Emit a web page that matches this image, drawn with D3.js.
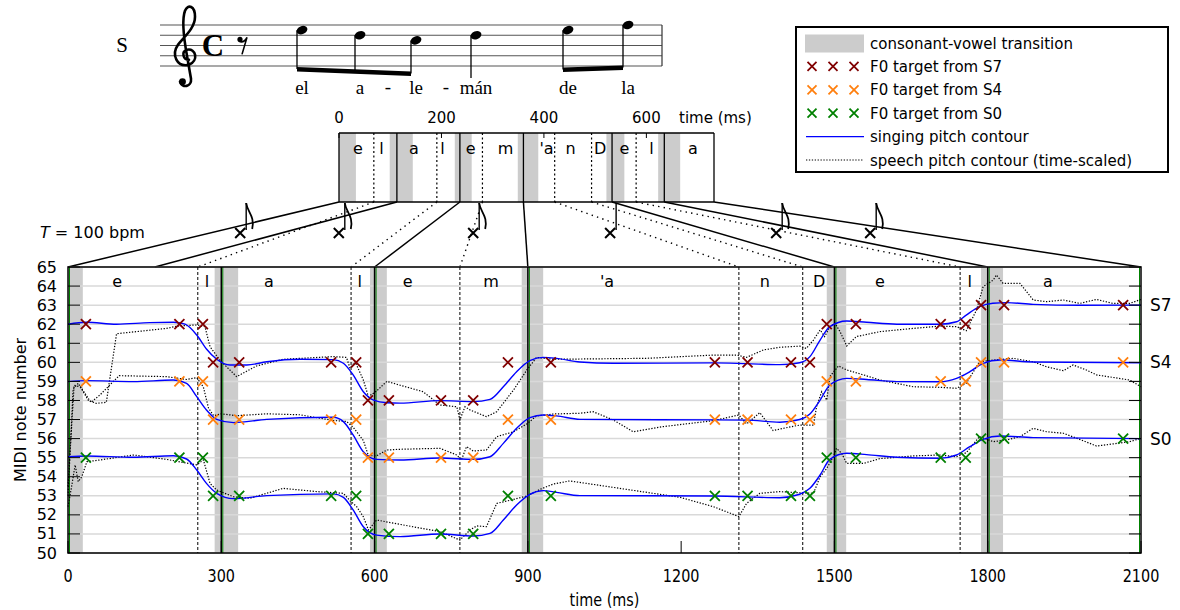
<!DOCTYPE html>
<html><head><meta charset="utf-8">
<script src="https://cdn.jsdelivr.net/npm/d3@7"></script>
<style>
body{margin:0;background:#fff}
text{font-family:"DejaVu Sans",sans-serif;fill:#000}
</style>
</head><body><div id="chart"></div>
<script>
// ---- data ----
var noteBounds = [0, 300, 600, 900, 1500, 1800, 2100];
var phonBounds = [254, 554, 767, 1313, 1438, 1746];
var cvRegions = [[0, 29], [287, 333], [591, 624], [888, 930], [1485, 1523], [1787, 1830]];
var phonemes = ["e", "l", "a", "l", "e", "m", "'a", "n", "D", "e", "l", "a"];
var phonTimes = [96, 272, 393, 571, 665, 828, 1055, 1364, 1470, 1589, 1765, 1918];

var speechBounds = [0, 113, 236, 360, 533, 635, 732];
var speechPhonBounds = [68, 191, 280, 421, 493, 580];
var speechCv = [[0, 33], [99, 144], [226, 259], [349, 389], [522, 557], [623, 666]];
var speechPhonTimes = [37, 83, 146, 202, 257, 325, 405, 452, 510, 557, 610, 691];
var speechTicks = [0, 200, 400, 600];

var solidLinks = [[0, 0], [113, 170], [236, 600], [360, 900], [533, 1500], [635, 1800], [732, 2100]];
var dottedLinks = [[68, 254], [191, 554], [280, 767], [421, 1313], [493, 1438], [580, 1746]];
var noteMarks = [337, 530, 793, 1061, 1386, 1570];
var noteFlag = [true, true, true, false, true, true];

var targetTimes = [35, 218, 264, 284, 335, 515, 564, 587, 628, 730, 793, 861, 945, 1266, 1330, 1415, 1452, 1485, 1542, 1708, 1757, 1787, 1832, 2065];
var targetS7 = [62, 62, 62, 60, 60, 60, 60, 58, 58, 58, 58, 60, 60, 60, 60, 60, 60, 62, 62, 62, 62, 63, 63, 63];
var targetS4 = [59, 59, 59, 57, 57, 57, 57, 55, 55, 55, 55, 57, 57, 57, 57, 57, 57, 59, 59, 59, 59, 60, 60, 60];
var targetS0 = [55, 55, 55, 53, 53, 53, 53, 51, 51, 51, 51, 53, 53, 53, 53, 53, 53, 55, 55, 55, 55, 56, 56, 56];

var singS7 = [[0, 62.0], [36, 62.1], [95, 62.0], [160, 62.08], [206, 62.1], [229, 62.0], [252, 61.43], [271, 60.7], [291, 60.16], [317, 59.86], [350, 59.86], [389, 60.03], [454, 60.16], [519, 60.14], [539, 59.95], [558, 59.34], [578, 58.46], [598, 58.02], [624, 57.88], [650, 57.86], [728, 57.99], [793, 57.94], [826, 58.06], [852, 58.72], [878, 59.51], [904, 60.09], [930, 60.26], [956, 60.21], [1002, 60.02], [1067, 59.95], [1263, 59.97], [1328, 59.93], [1393, 59.88], [1432, 59.98], [1452, 60.3], [1472, 61.17], [1491, 61.87], [1524, 62.17], [1563, 62.1], [1622, 62.0], [1706, 62.0], [1739, 62.13], [1758, 62.48], [1784, 62.92], [1810, 63.1], [1837, 63.13], [1889, 63.04], [1980, 62.99], [2100, 63.0]];
var singS4 = [[0, 58.99], [36, 59.04], [128, 58.99], [206, 59.07], [232, 58.9], [252, 58.2], [271, 57.5], [291, 57.01], [324, 56.84], [389, 57.01], [519, 57.12], [539, 56.89], [558, 56.19], [578, 55.31], [604, 54.91], [650, 54.88], [728, 54.98], [793, 54.91], [826, 55.05], [852, 55.75], [878, 56.54], [904, 57.1], [930, 57.24], [956, 57.19], [1002, 57.01], [1263, 56.98], [1328, 56.97], [1393, 56.86], [1432, 57.0], [1452, 57.29], [1472, 58.02], [1491, 58.81], [1524, 59.16], [1563, 59.1], [1622, 58.99], [1706, 58.98], [1739, 59.16], [1765, 59.51], [1791, 59.95], [1824, 60.12], [1889, 60.02], [2100, 59.98]];
var singS0 = [[0, 55.05], [36, 55.09], [128, 55.02], [206, 55.1], [232, 54.93], [252, 54.35], [271, 53.65], [291, 53.13], [324, 52.85], [389, 53.01], [519, 53.1], [539, 52.92], [558, 52.26], [578, 51.38], [604, 50.94], [650, 50.86], [728, 51.0], [793, 50.89], [826, 51.03], [852, 51.73], [878, 52.52], [904, 53.08], [930, 53.27], [956, 53.18], [1002, 53.01], [1263, 52.99], [1393, 52.9], [1432, 53.08], [1452, 53.39], [1472, 54.09], [1491, 54.91], [1524, 55.23], [1563, 55.16], [1622, 55.02], [1706, 54.97], [1739, 55.14], [1765, 55.58], [1791, 55.96], [1824, 56.14], [1889, 56.05], [2100, 56.0]];

var speechS7 = [[0, 53.0], [10, 58.6], [20, 58.9], [40, 58.0], [55, 57.85], [75, 57.9], [95, 61.5], [130, 61.6], [193, 61.78], [213, 61.9], [252, 61.96], [268, 61.87], [278, 60.82], [297, 60.12], [330, 59.25], [369, 59.81], [421, 60.16], [519, 60.3], [545, 60.26], [552, 59.69], [562, 60.03], [578, 59.07], [588, 58.2], [604, 58.5], [624, 59.0], [650, 58.8], [695, 58.46], [728, 57.76], [761, 57.67], [767, 56.98], [777, 57.67], [787, 57.5], [819, 57.15], [839, 57.41], [872, 58.55], [898, 59.6], [917, 60.26], [950, 60.16], [1132, 60.21], [1263, 60.38], [1309, 60.38], [1328, 60.26], [1361, 60.65], [1393, 60.79], [1432, 60.85], [1445, 60.73], [1459, 61.17], [1472, 61.7], [1481, 61.35], [1491, 61.87], [1501, 62.05], [1511, 61.61], [1524, 60.86], [1543, 61.35], [1589, 61.61], [1654, 61.78], [1706, 61.9], [1739, 61.87], [1758, 61.66], [1778, 62.74], [1791, 63.97], [1811, 64.32], [1817, 64.58], [1830, 64.14], [1863, 64.14], [1889, 63.27], [1915, 63.18], [1948, 63.27], [1980, 63.09], [2013, 63.3], [2045, 63.09], [2078, 63.09], [2100, 63.3]];
var speechS4 = [[0, 53.5], [12, 58.8], [25, 58.7], [45, 57.9], [63, 58.3], [100, 59.3], [193, 59.25], [232, 59.1], [252, 59.2], [265, 58.7], [275, 57.6], [285, 57.2], [300, 57.3], [330, 57.2], [389, 57.3], [454, 57.25], [519, 56.95], [545, 56.9], [558, 56.6], [578, 55.9], [588, 55.1], [604, 55.1], [624, 55.4], [650, 55.44], [728, 55.49], [761, 55.14], [770, 54.88], [780, 55.58], [793, 55.35], [819, 55.4], [839, 56.1], [872, 56.36], [898, 56.77], [917, 57.19], [950, 57.29], [1002, 57.33], [1028, 57.41], [1067, 56.98], [1106, 56.36], [1165, 56.63], [1263, 56.94], [1313, 57.24], [1328, 56.77], [1354, 57.36], [1380, 56.42], [1400, 56.54], [1432, 56.71], [1459, 56.71], [1465, 57.67], [1475, 58.46], [1485, 58.02], [1491, 59.25], [1508, 59.81], [1524, 59.6], [1557, 59.34], [1589, 59.07], [1654, 58.72], [1706, 58.69], [1739, 58.64], [1758, 58.9], [1784, 60.03], [1811, 60.12], [1850, 60.21], [1889, 60.03], [1915, 59.77], [1948, 59.56], [1967, 59.86], [1993, 59.6], [2013, 59.34], [2045, 59.21], [2078, 59.07], [2100, 58.72]];
var speechS0 = [[0, 52.43], [7, 53.48], [14, 54.62], [20, 53.74], [27, 54.0], [37, 54.79], [63, 54.88], [128, 55.14], [193, 54.91], [252, 54.62], [265, 54.88], [278, 53.65], [291, 53.3], [324, 52.95], [356, 52.87], [421, 53.39], [487, 53.22], [539, 53.13], [552, 52.74], [565, 52.43], [578, 51.9], [588, 51.21], [604, 51.73], [650, 51.5], [728, 51.12], [767, 50.68], [787, 51.21], [800, 51.42], [819, 51.38], [839, 52.6], [872, 52.81], [898, 52.99], [924, 53.34], [950, 53.62], [982, 53.78], [1035, 53.57], [1100, 53.31], [1198, 52.92], [1263, 52.43], [1313, 51.91], [1328, 52.6], [1354, 53.13], [1393, 53.22], [1432, 53.16], [1459, 53.13], [1472, 54.0], [1485, 54.44], [1498, 55.05], [1504, 55.49], [1514, 55.23], [1524, 54.7], [1557, 54.7], [1589, 54.95], [1654, 55.09], [1706, 55.14], [1739, 55.05], [1758, 55.26], [1784, 56.1], [1811, 55.84], [1837, 55.93], [1863, 56.1], [1889, 56.54], [1915, 56.36], [1948, 56.28], [1980, 55.96], [2013, 55.61], [2045, 55.72], [2078, 55.84], [2100, 56.01]];

var yTicks = d3.range(50, 66);
var xTicks = [0, 300, 600, 900, 1200, 1500, 1800, 2100];
var seriesNames = ["S7", "S4", "S0"];
var seriesEnd = [63, 60, 56];

// score: eighth rest then six notes
var scoreBeats = [0.5, 1, 1.5, 2, 3, 3.5];
var scoreSteps = [7, 6, 5, 6, 7, 8];   // E5 D5 C5 D5 E5 F5, step 0 = E4 (bottom line)
var lyrics = ["el", "a", "le", "mán", "de", "la"];
var hyphenBeats = [1.25, 1.75];

var colors = {S7: "#800000", S4: "#ff7f0e", S0: "#008000"};

var W = 1180, H = 610;
var svg = d3.select("#chart").append("svg").attr("width", W).attr("height", H);

// ---- scales ----
var x = d3.scaleLinear().domain([0, 2100]).range([68, 1141]);
var y = d3.scaleLinear().domain([50, 65]).range([553, 267]);
var xs = d3.scaleLinear().domain([0, 732]).range([339, 714]);
var boxTop = 133, boxBot = 202;
var sx = d3.scaleLinear().domain([0, 0.5, 1, 1.5, 2, 3, 3.5, 4.2]).range([243, 302, 360, 416, 476, 568, 628, 662]);
var sy = d3.scaleLinear().domain([0, 8]).range([66, 25]);

function cross(g, cx, cy, r, col, w) {
    g.append("path")
        .attr("d", "M" + (cx - r) + "," + (cy - r) + "L" + (cx + r) + "," + (cy + r) + "M" + (cx - r) + "," + (cy + r) + "L" + (cx + r) + "," + (cy - r))
        .attr("stroke", col).attr("stroke-width", w).attr("fill", "none");
}
// narrow text for the bottom axis (the figure uses a condensed face)
function narrowText(g, tx, ty, str, size) {
    return g.append("text").attr("transform", "translate(" + tx + "," + ty + ") scale(0.8,1)")
        .attr("text-anchor", "middle").style("font-size", size + "px").text(str);
}

// ---- score ----
var score = svg.append("g");
score.append("text").attr("x", 122).attr("y", 52).attr("text-anchor", "middle")
    .style("font-family", "Liberation Serif, serif").style("font-size", "21px").text("S");
d3.range(0, 9, 2).forEach(function(s) {
    score.append("line").attr("x1", 160).attr("x2", sx(4.2)).attr("y1", sy(s)).attr("y2", sy(s))
        .attr("stroke", "#555").attr("stroke-width", 1.1);
});
score.append("line").attr("x1", sx(4.2)).attr("x2", sx(4.2)).attr("y1", sy(8)).attr("y2", sy(0))
    .attr("stroke", "#333").attr("stroke-width", 1.2);
// treble clef (drawn)
var clef = score.append("g").attr("transform", "translate(186," + sy(2) + ")");
clef.append("path")
    .attr("d", "M3,4 C-3,4 -5,-4 1,-6 C10,-8 13,5 3,9 C-9,12 -15,-1 -8,-11 C-3,-18 9,-27 9,-39 C9,-50 2,-52 -1,-45 C-4,-37 -3,-22 1,0 L5,23 C6,31 -4,33 -6,26")
    .attr("fill", "none").attr("stroke", "#000").attr("stroke-width", 2.6).attr("stroke-linecap", "round");
clef.append("circle").attr("cx", -3.5).attr("cy", 26).attr("r", 3.4).attr("fill", "#000");
// common time
score.append("text").attr("x", 213).attr("y", sy(4) + 10).attr("text-anchor", "middle")
    .style("font-family", "Liberation Serif, serif").style("font-weight", "bold").style("font-size", "31px").text("C");
// eighth rest
var rx = sx(0), ry = sy(5);
score.append("circle").attr("cx", rx - 3).attr("cy", ry - 1).attr("r", 2.6).attr("fill", "#000");
score.append("path").attr("d", "M" + (rx - 4) + "," + (ry + 1) + " Q" + (rx + 1) + "," + (ry + 3) + " " + (rx + 4) + "," + (ry - 3) + " L" + (rx - 1) + "," + (ry + 14))
    .attr("fill", "none").attr("stroke", "#000").attr("stroke-width", 1.6);
// note heads and stems
scoreBeats.forEach(function(b, i) {
    var cx = sx(b), cy = sy(scoreSteps[i]);
    score.append("ellipse").attr("cx", cx).attr("cy", cy).attr("rx", 5.6).attr("ry", 4)
        .attr("transform", "rotate(-22," + cx + "," + cy + ")").attr("fill", "#000");
});
var beams = [[0, 2, 67, 71.5], [4, 5, 67.5, 65.5]];
beams.forEach(function(bm) {
    var xa = sx(scoreBeats[bm[0]]) - 5, xb = sx(scoreBeats[bm[1]]) - 5;
    score.append("path").attr("d", "M" + xa + "," + bm[2] + "L" + xb + "," + bm[3] + "L" + xb + "," + (bm[3] + 4.5) + "L" + xa + "," + (bm[2] + 4.5) + "Z").attr("fill", "#000");
    d3.range(bm[0], bm[1] + 1).forEach(function(i) {
        var xi = sx(scoreBeats[i]) - 5;
        var yb = bm[2] + (bm[3] - bm[2]) * (xi - xa) / (xb - xa) + 2;
        score.append("line").attr("x1", xi).attr("x2", xi).attr("y1", sy(scoreSteps[i])).attr("y2", yb)
            .attr("stroke", "#000").attr("stroke-width", 1.3);
    });
});
score.append("line").attr("x1", sx(2) - 5).attr("x2", sx(2) - 5).attr("y1", sy(6)).attr("y2", 78)
    .attr("stroke", "#000").attr("stroke-width", 1.3);
lyrics.forEach(function(l, i) {
    score.append("text").attr("x", sx(scoreBeats[i])).attr("y", 94).attr("text-anchor", "middle")
        .style("font-family", "Liberation Serif, serif").style("font-size", "19px").text(l);
});
hyphenBeats.forEach(function(b) {
    score.append("text").attr("x", sx(b)).attr("y", 93).attr("text-anchor", "middle")
        .style("font-family", "Liberation Serif, serif").style("font-size", "19px").text("-");
});

// ---- speech time box ----
var upper = svg.append("g");
speechCv.forEach(function(r) {
    upper.append("rect").attr("x", xs(r[0])).attr("y", boxTop).attr("width", xs(r[1]) - xs(r[0])).attr("height", boxBot - boxTop).attr("fill", "#cccccc");
});
speechPhonBounds.forEach(function(t) {
    upper.append("line").attr("x1", xs(t)).attr("x2", xs(t)).attr("y1", boxTop).attr("y2", boxBot)
        .attr("stroke", "#000").attr("stroke-width", 1.2).attr("stroke-dasharray", "2,2.5");
});
speechBounds.forEach(function(t) {
    upper.append("line").attr("x1", xs(t)).attr("x2", xs(t)).attr("y1", boxTop).attr("y2", boxBot)
        .attr("stroke", "#000").attr("stroke-width", 1.3);
});
upper.append("line").attr("x1", xs(0)).attr("x2", xs(732)).attr("y1", boxTop).attr("y2", boxTop).attr("stroke", "#000").attr("stroke-width", 1.3);
upper.append("line").attr("x1", xs(0)).attr("x2", xs(732)).attr("y1", boxBot).attr("y2", boxBot).attr("stroke", "#000").attr("stroke-width", 1.3);
speechTicks.forEach(function(t) {
    upper.append("line").attr("x1", xs(t)).attr("x2", xs(t)).attr("y1", boxTop).attr("y2", boxTop + 5).attr("stroke", "#000").attr("stroke-width", 1);
    upper.append("text").attr("x", xs(t)).attr("y", 123).attr("text-anchor", "middle").style("font-size", "15px").text(t);
});
upper.append("text").attr("x", 679).attr("y", 123).style("font-size", "15px").text("time (ms)");
phonemes.forEach(function(p, i) {
    upper.append("text").attr("x", xs(speechPhonTimes[i])).attr("y", 154).attr("text-anchor", "middle").style("font-size", "16px").text(p);
});

// ---- links between speech box and plot ----
var links = svg.append("g");
solidLinks.forEach(function(l) {
    links.append("line").attr("x1", xs(l[0])).attr("y1", boxBot).attr("x2", x(l[1])).attr("y2", y(65))
        .attr("stroke", "#000").attr("stroke-width", 1.5);
});
dottedLinks.forEach(function(l) {
    links.append("line").attr("x1", xs(l[0])).attr("y1", boxBot).attr("x2", x(l[1])).attr("y2", y(65))
        .attr("stroke", "#000").attr("stroke-width", 1.4).attr("stroke-dasharray", "1.4,4.2");
});
noteMarks.forEach(function(t, i) {
    var cx = x(t), cy = 233, st = cx + 6;
    cross(links, cx, cy, 5, "#000", 2);
    links.append("line").attr("x1", st).attr("x2", st).attr("y1", boxBot + 1).attr("y2", cy - 3).attr("stroke", "#000").attr("stroke-width", 1.4);
    if (noteFlag[i]) {
        links.append("path").attr("d", "M" + st + "," + (boxBot + 1) + " C" + (st + 1) + "," + (boxBot + 10) + " " + (st + 9) + "," + (boxBot + 14) + " " + (st + 6) + "," + (boxBot + 27))
            .attr("fill", "none").attr("stroke", "#000").attr("stroke-width", 1.8);
    }
});
var tl = links.append("text").attr("x", 40).attr("y", 238).style("font-size", "16px");
tl.append("tspan").style("font-style", "italic").text("T");
tl.append("tspan").text(" = 100 bpm");

// ---- main plot ----
var main = svg.append("g");
cvRegions.forEach(function(r) {
    main.append("rect").attr("x", x(r[0])).attr("y", y(65)).attr("width", x(r[1]) - x(r[0])).attr("height", y(50) - y(65)).attr("fill", "#cccccc");
});
yTicks.forEach(function(v) {
    main.append("line").attr("x1", x(0)).attr("x2", x(2100)).attr("y1", y(v)).attr("y2", y(v))
        .attr("stroke", "#d9d9d9").attr("stroke-width", 1.5);
});
phonBounds.forEach(function(t) {
    main.append("line").attr("x1", x(t)).attr("x2", x(t)).attr("y1", y(65)).attr("y2", y(50))
        .attr("stroke", "#000").attr("stroke-width", 1).attr("stroke-dasharray", "3,2");
});
noteBounds.forEach(function(t) {
    var gx = t < 2100 ? x(t) + 1.5 : x(t) - 1.5;
    main.append("line").attr("x1", gx).attr("x2", gx).attr("y1", y(65)).attr("y2", y(50))
        .attr("stroke", "#008000").attr("stroke-width", 1);
    if (t > 0 && t < 2100) {
        main.append("line").attr("x1", x(t)).attr("x2", x(t)).attr("y1", y(65)).attr("y2", y(50))
            .attr("stroke", "#000").attr("stroke-width", 1.5);
    }
});
phonemes.forEach(function(p, i) {
    main.append("text").attr("x", x(phonTimes[i])).attr("y", 287).attr("text-anchor", "middle").style("font-size", "16px").text(p);
});

var line = d3.line().x(function(d) { return x(d[0]); }).y(function(d) { return y(d[1]); });
[speechS7, speechS4, speechS0].forEach(function(s) {
    main.append("path").attr("d", line.curve(d3.curveLinear)(s)).attr("fill", "none")
        .attr("stroke", "#000").attr("stroke-width", 1.2).attr("stroke-dasharray", "1.3,1.6");
});
[singS7, singS4, singS0].forEach(function(s) {
    main.append("path").attr("d", line.curve(d3.curveMonotoneX)(s)).attr("fill", "none")
        .attr("stroke", "#0000ff").attr("stroke-width", 1.4);
});
[targetS7, targetS4, targetS0].forEach(function(vals, k) {
    vals.forEach(function(v, i) {
        cross(main, x(targetTimes[i]), y(v), 5, colors[seriesNames[k]], 1.8);
    });
});

// axes frame and ticks
yTicks.forEach(function(v) {
    main.append("line").attr("x1", x(2100) - 12).attr("x2", x(2100)).attr("y1", y(v)).attr("y2", y(v)).attr("stroke", "#000").attr("stroke-width", 1);
    main.append("line").attr("x1", x(0)).attr("x2", x(0) + 12).attr("y1", y(v)).attr("y2", y(v)).attr("stroke", "#000").attr("stroke-width", 1);
    main.append("text").attr("x", 57).attr("y", y(v) + 5.5).attr("text-anchor", "end").style("font-size", "16px").text(v);
});
xTicks.forEach(function(t) {
    main.append("line").attr("x1", x(t)).attr("x2", x(t)).attr("y1", y(50) - 12).attr("y2", y(50)).attr("stroke", "#000").attr("stroke-width", 1);
    narrowText(main, x(t), 582, t, 18);
});
main.append("rect").attr("x", x(0)).attr("y", y(65)).attr("width", x(2100) - x(0)).attr("height", y(50) - y(65))
    .attr("fill", "none").attr("stroke", "#000").attr("stroke-width", 1.5);
narrowText(main, x(1050), 606, "time (ms)", 18);
main.append("text").attr("transform", "translate(26," + y(57.5) + ") rotate(-90)").attr("text-anchor", "middle")
    .style("font-size", "16px").text("MIDI note number");
seriesNames.forEach(function(n, k) {
    main.append("text").attr("x", 1150).attr("y", y(seriesEnd[k]) + 6).style("font-size", "17px").text(n);
});

// ---- legend ----
var lg = svg.append("g");
lg.append("rect").attr("x", 796).attr("y", 27).attr("width", 372).attr("height", 145).attr("fill", "#fff").attr("stroke", "#000").attr("stroke-width", 2);
var legendLabels = ["consonant-vowel transition", "F0 target from S7", "F0 target from S4", "F0 target from S0", "singing pitch contour", "speech pitch contour (time-scaled)"];
legendLabels.forEach(function(t, i) {
    var ly = 43 + i * 23.4;
    lg.append("text").attr("x", 870).attr("y", ly + 5.5).style("font-size", "15px").text(t);
    if (i === 0) {
        lg.append("rect").attr("x", 805).attr("y", ly - 8.5).attr("width", 59).attr("height", 18).attr("fill", "#cccccc");
    } else if (i <= 3) {
        [812, 833, 854].forEach(function(cx) { cross(lg, cx, ly, 4.5, colors[seriesNames[i - 1]], 1.8); });
    } else if (i === 4) {
        lg.append("line").attr("x1", 806).attr("x2", 864).attr("y1", ly).attr("y2", ly).attr("stroke", "#0000ff").attr("stroke-width", 1.4);
    } else {
        lg.append("line").attr("x1", 806).attr("x2", 864).attr("y1", ly).attr("y2", ly).attr("stroke", "#000").attr("stroke-width", 1.2).attr("stroke-dasharray", "1.3,1.6");
    }
});
</script></body></html>
